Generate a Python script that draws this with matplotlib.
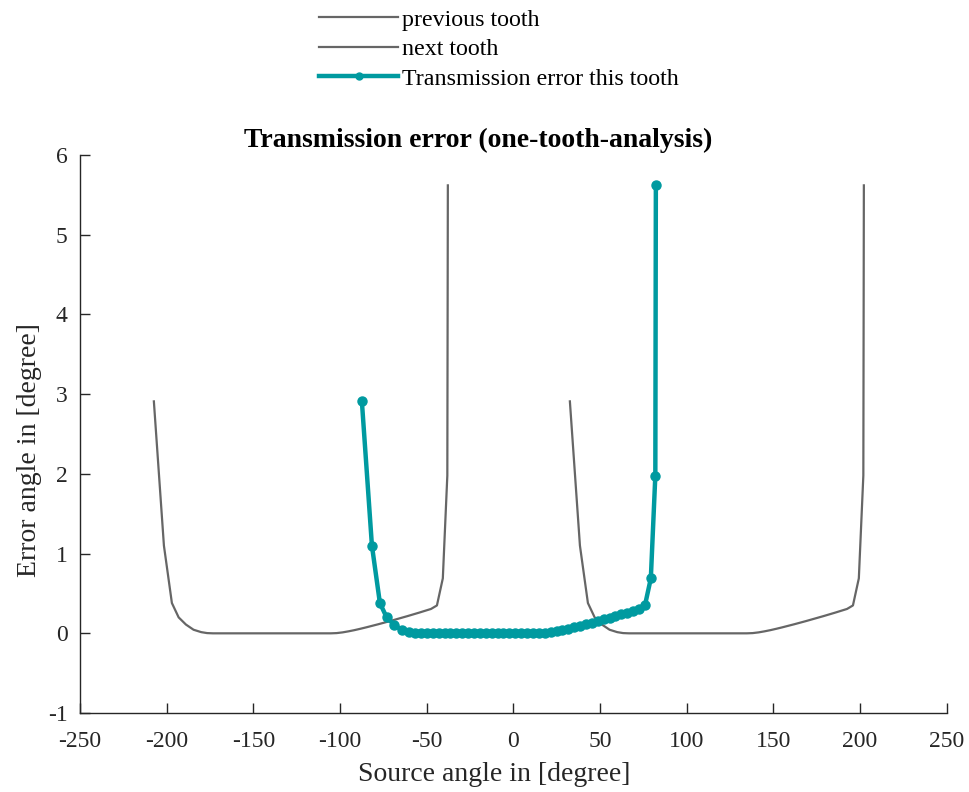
import matplotlib
matplotlib.use("Agg")
import matplotlib.pyplot as plt
import numpy as np

# Transmission error of one tooth engagement (source angle vs. error angle)
source_angle = [-87.4, -81.6, -77.0, -73.1, -68.9, -64.5,
                -60.1, -56.7, -53.3, -49.9, -46.5, -43.1, -39.7, -36.3, -32.9,
                -29.5, -26.1, -22.7, -19.3, -15.9, -12.5, -9.1, -5.7, -2.3,
                1.1, 4.5, 7.9, 11.3, 14.7, 18.1, 21.5, 24.9, 28.3, 31.7,
                35.1, 38.5, 41.9, 45.3, 48.7, 52.1, 55.5, 58.9, 62.3, 65.7,
                69.1, 72.5, 75.9, 79.3, 81.9, 82.2]
error_angle = [2.91, 1.10, 0.38, 0.20, 0.11, 0.045,
               0.015, 0.003, 0.0, 0.0, 0.0, 0.0, 0.0, 0.0, 0.0,
               0.0, 0.0, 0.0, 0.0, 0.0, 0.0, 0.0, 0.0, 0.0,
               0.0, 0.0, 0.0, 0.0, 0.0, 0.003, 0.012, 0.025, 0.04, 0.057,
               0.075, 0.094, 0.113, 0.133, 0.153, 0.174, 0.195, 0.216, 0.238, 0.26,
               0.283, 0.306, 0.35, 0.69, 1.98, 5.62]

# angular pitch between neighbouring teeth
tooth_pitch = 120.0

x_ticks = [-250, -200, -150, -100, -50, 0, 50, 100, 150, 200, 250]
y_ticks = [-1, 0, 1, 2, 3, 4, 5, 6]

plt.rcParams['font.family'] = ['Liberation Serif', 'DejaVu Serif']

fig = plt.figure(figsize=(9.7, 7.92), dpi=100)
ax = fig.add_axes([0.0825, 0.0997, 0.8935, 0.7045])

x = np.array(source_angle)
y = np.array(error_angle)
gray = '#666666'
teal = '#009aa0'

ax.plot(x - tooth_pitch, y, color=gray, lw=1.6, label='previous tooth')
ax.plot(x + tooth_pitch, y, color=gray, lw=1.6, label='next tooth')
ax.plot(x, y, color=teal, lw=3.2, marker='o', markersize=6.5,
        label='Transmission error this tooth')

ax.set_xlim(-250, 250)
ax.set_ylim(-1, 6)
ax.set_xticks(x_ticks)
ax.set_yticks(y_ticks)
ax.set_xticklabels([str(v) for v in x_ticks])
ax.set_yticklabels([str(v) for v in y_ticks])
ax.tick_params(direction='in', length=7, width=1, labelsize=17, colors='#262626')
ax.tick_params(axis='x', pad=13)
ax.tick_params(axis='y', pad=9)
for s in ['top', 'right']:
    ax.spines[s].set_visible(False)
for s in ['left', 'bottom']:
    ax.spines[s].set_color('#262626')
    ax.spines[s].set_linewidth(1)

ax.set_xlabel('Source angle in [degree]', fontsize=20, color='#262626', labelpad=10)
ax.xaxis.set_label_coords(0.4775, -0.088)
ax.set_ylabel('Error angle in [degree]', fontsize=20, color='#262626', labelpad=4)
ax.yaxis.label.set_y(0.4713)
ax.set_title('Transmission error (one-tooth-analysis)', fontsize=20,
             fontweight='bold', pad=6, x=0.4596)

handles, labels = ax.get_legend_handles_labels()
leg = fig.legend(handles, labels, loc='upper left', bbox_to_anchor=(0.312, 1.01),
                 frameon=False, fontsize=17.3, handlelength=3.25, handletextpad=0.2,
                 labelspacing=0.32, borderpad=0.2)
for h in leg.legend_handles:
    if h.get_marker() == 'o':
        h.set_markersize(5)

fig.savefig('out.png', dpi=100)
